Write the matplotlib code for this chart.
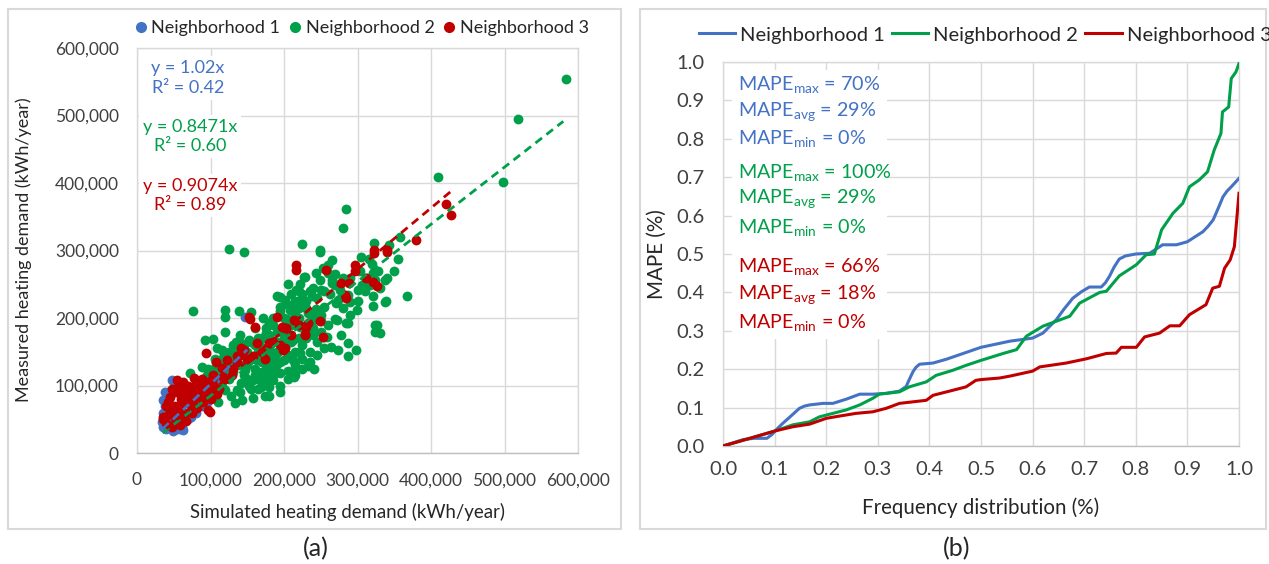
"""Two-panel figure: measured vs simulated heating demand (a) and MAPE distribution (b)."""

import matplotlib

matplotlib.use("Agg")
import matplotlib.pyplot as plt
from matplotlib.lines import Line2D
from matplotlib.patches import Rectangle
from matplotlib.ticker import FuncFormatter, MultipleLocator

plt.rcParams["font.family"] = ["Lato", "DejaVu Sans"]
plt.rcParams["mathtext.fontset"] = "custom"
plt.rcParams["mathtext.rm"] = "Lato"

W, H = 1269, 564
BLUE = "#4472C4"
GREEN = "#00A04A"
RED = "#C00000"
GRID = "#d9d9d9"
TICK = "#404040"
INK = "#262626"

NAMES = ["Neighborhood 1", "Neighborhood 2", "Neighborhood 3"]

# (a) scatter, thousands of kWh/year: simulated (x), measured (y)
blue_x = [38, 36, 47, 36, 49, 61, 63, 34, 74, 95, 147, 127, 45, 40, 55, 42, 50,
          70, 60, 80, 36, 45, 55, 65, 90, 100, 110, 120, 130, 38, 44, 52, 58]
blue_y = [91, 78, 108, 39, 32, 39, 34, 46, 54, 76, 202, 128, 66, 36, 35, 90, 105,
          50, 45, 60, 60, 45, 100, 95, 70, 95, 105, 120, 135, 70, 80, 40, 36]

green_x = [583, 518, 409, 498, 285, 280, 125, 146, 225, 249, 249, 322, 343, 358,
           355, 367, 331, 324, 287, 76, 265, 260, 253, 229, 206, 249, 265, 269,
           222, 240, 238, 251, 276, 290, 299, 274, 272, 285, 278, 258, 303, 306,
           313, 317, 321, 328, 337, 321, 321, 339, 300, 315, 326, 324, 194, 194,
           208, 215, 204, 233, 244, 251, 240, 269, 338, 287, 271, 273, 264, 241,
           233, 214, 212, 190, 185, 174, 158, 134, 143, 120, 139, 155, 120, 104,
           93, 120, 109, 115, 128, 142, 152, 171, 179, 190, 201, 217, 222, 227,
           244, 260, 265, 255, 238, 222, 212, 201, 190, 163, 169, 147, 158, 142,
           169, 179, 136, 120, 104, 88, 82, 72, 99, 212, 222, 255, 287, 298, 311,
           324, 287, 160, 175, 185, 195, 205, 215, 225, 230, 210, 200, 190, 180,
           170, 165, 150, 140, 130, 125, 115, 105, 95, 100, 110, 120, 135, 145,
           155, 165, 175, 185, 195, 205, 215, 225, 235, 245, 250, 240, 230, 220,
           210, 200, 190, 180, 170, 160, 150, 145, 135, 125, 90, 80, 70, 60, 55,
           65, 75, 85, 95, 105, 115, 130, 140, 160, 175, 185, 195, 205, 215, 225,
           235, 245, 255, 262, 280, 290, 300, 310, 330, 340, 350, 320, 305, 290,
           280, 270, 230, 220, 210, 150, 160, 170, 180, 190, 200, 210, 220, 230,
           240, 150, 160, 170, 180, 190, 200, 210, 220, 165, 175, 185, 195, 205,
           215, 225, 235, 245, 255, 260, 250, 240, 230, 220, 210, 200, 185, 175,
           165, 155, 145, 135, 125, 118, 112, 106, 96, 90, 80, 75, 110, 128, 140,
           152, 180, 195]
green_y = [554, 495, 409, 402, 361, 333, 302, 298, 309, 301, 298, 311, 308, 320,
           287, 233, 178, 190, 144, 211, 286, 279, 274, 261, 251, 257, 256, 249,
           251, 245, 232, 242, 241, 224, 212, 227, 197, 192, 175, 172, 269, 249,
           259, 249, 267, 270, 256, 232, 218, 225, 241, 288, 190, 179, 231, 217,
           212, 204, 199, 207, 214, 204, 197, 199, 224, 193, 222, 153, 157, 124,
           129, 113, 120, 120, 116, 84, 81, 74, 79, 212, 211, 209, 201, 169, 167,
           180, 155, 153, 141, 163, 167, 200, 193, 232, 227, 241, 227, 261, 267,
           267, 252, 217, 207, 187, 167, 157, 148, 138, 157, 123, 108, 104, 98,
           98, 93, 93, 98, 128, 104, 118, 83, 138, 148, 172, 163, 153, 256, 256,
           234, 125, 130, 140, 135, 145, 150, 160, 170, 175, 170, 165, 155, 145,
           150, 140, 130, 120, 110, 100, 90, 85, 110, 120, 130, 150, 115, 95, 110,
           115, 125, 118, 122, 130, 140, 150, 165, 180, 185, 190, 200, 190, 180,
           180, 175, 170, 160, 150, 145, 135, 125, 95, 90, 80, 70, 60, 75, 85,
           100, 115, 125, 140, 160, 175, 185, 185, 200, 210, 220, 225, 235, 240,
           230, 240, 235, 215, 205, 225, 240, 245, 260, 270, 280, 290, 260, 260,
           265, 215, 215, 235, 130, 140, 135, 145, 150, 160, 165, 170, 180, 175,
           110, 115, 120, 128, 132, 138, 142, 150, 95, 105, 108, 100, 110, 115,
           125, 135, 145, 155, 190, 195, 205, 225, 240, 215, 200, 190, 178, 170,
           165, 160, 165, 150, 145, 132, 140, 125, 110, 100, 95, 75, 85, 90, 100,
           85, 90]

red_x = [427, 421, 379, 340, 340, 323, 323, 297, 297, 216, 216, 257, 278, 288,
         283, 284, 312, 321, 326, 249, 253, 229, 233, 203, 152, 160, 190, 201,
         214, 230, 228, 163, 179, 195, 201, 174, 158, 142, 136, 123, 108, 94,
         115, 104, 99, 109, 154, 197, 145, 181, 199, 136, 129, 117, 104, 99, 97,
         54, 77, 63, 81, 45, 70, 88, 40, 59, 77, 36, 49, 63, 59, 47, 81, 68, 56,
         36, 50, 60, 70, 85, 90, 65, 55, 75, 45, 85, 95, 40, 42, 48, 52, 58, 62,
         66, 72, 78, 84, 92, 96, 88, 58, 66, 74, 44, 52, 80, 100, 105, 112, 120,
         130, 140, 150, 170, 185, 210, 220]
red_y = [353, 369, 316, 301, 298, 301, 296, 279, 269, 279, 271, 271, 252, 252,
         234, 229, 259, 254, 247, 195, 172, 177, 192, 185, 201, 187, 202, 185,
         197, 187, 175, 163, 163, 160, 155, 140, 143, 155, 143, 138, 135, 148,
         126, 116, 61, 88, 199, 187, 153, 163, 153, 135, 116, 113, 111, 93, 64,
         108, 111, 93, 93, 83, 83, 83, 69, 71, 71, 54, 56, 54, 41, 39, 67, 98,
         98, 51, 90, 80, 100, 105, 75, 60, 50, 60, 65, 90, 100, 45, 75, 95, 70,
         88, 105, 78, 92, 80, 96, 88, 105, 110, 62, 48, 70, 58, 45, 104, 80, 100,
         95, 110, 125, 145, 140, 150, 165, 175, 190]

slopes = [1.02, 0.8471, 0.9074]
fit_ranges = [(35, 150), (35, 580), (40, 428)]
fit_texts = ["y = 1.02x\nR² = 0.42", "y = 0.8471x\nR² = 0.60", "y = 0.9074x\nR² = 0.89"]

# (b) cumulative MAPE curves
n1_x = [0, 0.04, 0.06, 0.085, 0.095, 0.103, 0.115, 0.13, 0.148, 0.158, 0.168,
        0.194, 0.213, 0.239, 0.265, 0.29, 0.316, 0.342, 0.355, 0.36, 0.368, 0.374,
        0.381, 0.407, 0.433, 0.459, 0.5, 0.556, 0.6, 0.62, 0.646, 0.66, 0.678,
        0.695, 0.71, 0.733, 0.741, 0.749, 0.758, 0.768, 0.78, 0.8, 0.827, 0.852,
        0.879, 0.9, 0.93, 0.94, 0.95, 0.96, 0.969, 0.977, 0.985, 1.0]
n1_y = [0, 0.017, 0.02, 0.02, 0.03, 0.042, 0.058, 0.076, 0.098, 0.104, 0.107,
        0.111, 0.111, 0.122, 0.135, 0.135, 0.137, 0.143, 0.155, 0.17, 0.193, 0.205,
        0.213, 0.216, 0.226, 0.238, 0.257, 0.273, 0.281, 0.294, 0.329, 0.355,
        0.385, 0.402, 0.414, 0.414, 0.425, 0.442, 0.466, 0.487, 0.495, 0.5, 0.502,
        0.524, 0.524, 0.532, 0.558, 0.572, 0.589, 0.62, 0.649, 0.664, 0.675, 0.697]
n2_x = [0, 0.052, 0.103, 0.135, 0.168, 0.187, 0.213, 0.239, 0.265, 0.29, 0.303,
        0.342, 0.361, 0.394, 0.413, 0.445, 0.471, 0.5, 0.543, 0.569, 0.588, 0.62,
        0.672, 0.691, 0.73, 0.743, 0.768, 0.801, 0.82, 0.836, 0.85, 0.872, 0.891,
        0.904, 0.923, 0.939, 0.952, 0.965, 0.968, 0.98, 0.985, 0.994, 1.0]
n2_y = [0, 0.02, 0.04, 0.055, 0.063, 0.076, 0.085, 0.094, 0.107, 0.124, 0.135,
        0.141, 0.154, 0.167, 0.184, 0.197, 0.21, 0.223, 0.241, 0.251, 0.286,
        0.312, 0.338, 0.372, 0.4, 0.403, 0.443, 0.472, 0.498, 0.5, 0.563, 0.606,
        0.632, 0.675, 0.693, 0.714, 0.771, 0.814, 0.87, 0.883, 0.957, 0.974, 0.996]
n3_x = [0, 0.052, 0.103, 0.135, 0.168, 0.2, 0.226, 0.258, 0.29, 0.316, 0.342,
        0.368, 0.394, 0.407, 0.445, 0.471, 0.49, 0.5, 0.536, 0.556, 0.6, 0.614,
        0.665, 0.704, 0.743, 0.762, 0.772, 0.801, 0.817, 0.846, 0.866, 0.885,
        0.904, 0.936, 0.949, 0.962, 0.972, 0.983, 0.991, 1.0]
n3_y = [0, 0.02, 0.04, 0.05, 0.057, 0.072, 0.078, 0.085, 0.089, 0.098, 0.111,
        0.115, 0.119, 0.132, 0.145, 0.154, 0.171, 0.173, 0.177, 0.182, 0.195,
        0.206, 0.216, 0.227, 0.241, 0.242, 0.257, 0.257, 0.284, 0.294, 0.313,
        0.313, 0.342, 0.368, 0.411, 0.416, 0.463, 0.485, 0.519, 0.658]

mape_stats = [("70%", "29%", "0%"), ("100%", "29%", "0%"), ("66%", "18%", "0%")]


def fig_rect(x0, y0, x1, y1):
    """Pixel box (top-left origin) to figure-fraction rect."""
    return [x0 / W, 1 - y1 / H, (x1 - x0) / W, (y1 - y0) / H]


def style_axes(ax, size, xpad):
    ax.grid(True, color=GRID, linewidth=1.0)
    ax.set_axisbelow(True)
    for side in ax.spines.values():
        side.set_color(GRID)
        side.set_linewidth(1.0)
    ax.spines["bottom"].set_color("#bfbfbf")
    ax.tick_params(length=0, labelsize=size, labelcolor=TICK)
    ax.tick_params(axis="y", pad=13)
    ax.tick_params(axis="x", pad=xpad)


def draw_scatter(fig, ax):
    series = [(blue_x, blue_y, BLUE), (green_x, green_y, GREEN), (red_x, red_y, RED)]
    for xs, ys, color in series:
        ax.scatter([v * 1000 for v in xs], [v * 1000 for v in ys], s=50,
                   color=color, linewidths=0, zorder=2)
    for (lo, hi), k, (_, _, color) in zip(fit_ranges, slopes, series):
        ax.plot([lo * 1000, hi * 1000], [k * lo * 1000, k * hi * 1000],
                color=color, linestyle=(0, (3, 2)), linewidth=2.0, zorder=3)

    ax.set_xlim(0, 600000)
    ax.set_ylim(0, 600000)
    ax.xaxis.set_major_locator(MultipleLocator(100000))
    ax.yaxis.set_major_locator(MultipleLocator(100000))
    fmt = FuncFormatter(lambda v, _: f"{v:,.0f}")
    ax.xaxis.set_major_formatter(fmt)
    ax.yaxis.set_major_formatter(fmt)
    style_axes(ax, 12.5, 14)

    spots = [(0.116, 0.926), (0.12, 0.781), (0.12, 0.636)]
    for (tx, ty), label, color in zip(spots, fit_texts, [BLUE, GREEN, RED]):
        ax.text(tx, ty, label, transform=ax.transAxes, ha="center", va="center",
                color=color, fontsize=13, linespacing=1.25, zorder=4,
                bbox=dict(facecolor="white", edgecolor="none", pad=3))

    handles = [Line2D([], [], marker="o", ls="none", color=c, markersize=7)
               for c in (BLUE, GREEN, RED)]
    fig.legend(handles, NAMES, loc="center", bbox_to_anchor=(362 / W, 1 - 28 / H),
               ncol=3, frameon=False, fontsize=13, handlelength=0.6,
               handletextpad=0.3, columnspacing=0.5, borderpad=0, borderaxespad=0,
               labelcolor=INK)

    fig.text(348 / W, 1 - 512 / H, "Simulated heating demand (kWh/year)",
             ha="center", va="center", fontsize=13.4, color=INK)
    fig.text(24 / W, 1 - 250 / H, "Measured heating demand (kWh/year)",
             ha="center", va="center", rotation=90, fontsize=13, color=INK)


def draw_curves(fig, ax):
    for xs, ys, color in [(n1_x, n1_y, BLUE), (n2_x, n2_y, GREEN), (n3_x, n3_y, RED)]:
        ax.plot(xs, ys, color=color, linewidth=2.2, zorder=3)

    ax.set_xlim(0, 1)
    ax.set_ylim(0, 1)
    ax.xaxis.set_major_locator(MultipleLocator(0.1))
    ax.yaxis.set_major_locator(MultipleLocator(0.1))
    fmt = FuncFormatter(lambda v, _: f"{v:.1f}")
    ax.xaxis.set_major_formatter(fmt)
    ax.yaxis.set_major_formatter(fmt)
    style_axes(ax, 14.5, 11)

    # white panel behind the MAPE summary, as in the source chart
    ax.add_patch(Rectangle((0.017, 0.279), 0.30, 0.70, transform=ax.transAxes,
                           facecolor="white", edgecolor="none", zorder=2))
    rows = [0.940, 0.870, 0.799, 0.711, 0.641, 0.568, 0.464, 0.393, 0.320]
    subs = ["max", "avg", "min"]
    for i, (stats, color) in enumerate(zip(mape_stats, [BLUE, GREEN, RED])):
        for j, (sub, val) in enumerate(zip(subs, stats)):
            ax.text(0.029, rows[3 * i + j],
                    r"MAPE$_{\mathregular{" + sub + "}}$ = " + val,
                    transform=ax.transAxes, ha="left", va="center", color=color,
                    fontsize=14.2, zorder=4)

    handles = [Line2D([], [], color=c, linewidth=2.2) for c in (BLUE, GREEN, RED)]
    fig.legend(handles, NAMES, loc="center left", bbox_to_anchor=(699 / W, 1 - 35 / H),
               ncol=3, frameon=False, fontsize=14.5, handlelength=1.8,
               handletextpad=0.25, columnspacing=0.35, borderpad=0, borderaxespad=0,
               labelcolor=INK)

    fig.text(981 / W, 1 - 508 / H, "Frequency distribution (%)",
             ha="center", va="center", fontsize=14.8, color=INK)
    fig.text(657 / W, 1 - 254 / H, "MAPE (%)",
             ha="center", va="center", rotation=90, fontsize=14.8, color=INK)


def main():
    fig = plt.figure(figsize=(W / 100, H / 100), dpi=100)
    for x0, x1 in [(8, 621), (640, 1266)]:
        fig.add_artist(Rectangle((x0 / W, 1 - 529 / H), (x1 - x0) / W, 520 / H,
                                 transform=fig.transFigure, fill=False,
                                 edgecolor=GRID, linewidth=1.5))

    ax_a = fig.add_axes(fig_rect(137, 48, 578, 453))
    ax_b = fig.add_axes(fig_rect(723, 62, 1239, 446))
    draw_scatter(fig, ax_a)
    draw_curves(fig, ax_b)

    fig.text(316 / W, 1 - 549 / H, "(a)", ha="center", va="center", fontsize=18,
             color=INK)
    fig.text(957 / W, 1 - 549 / H, "(b)", ha="center", va="center", fontsize=18,
             color=INK)
    fig.savefig("out.png", dpi=100)


if __name__ == "__main__":
    main()
